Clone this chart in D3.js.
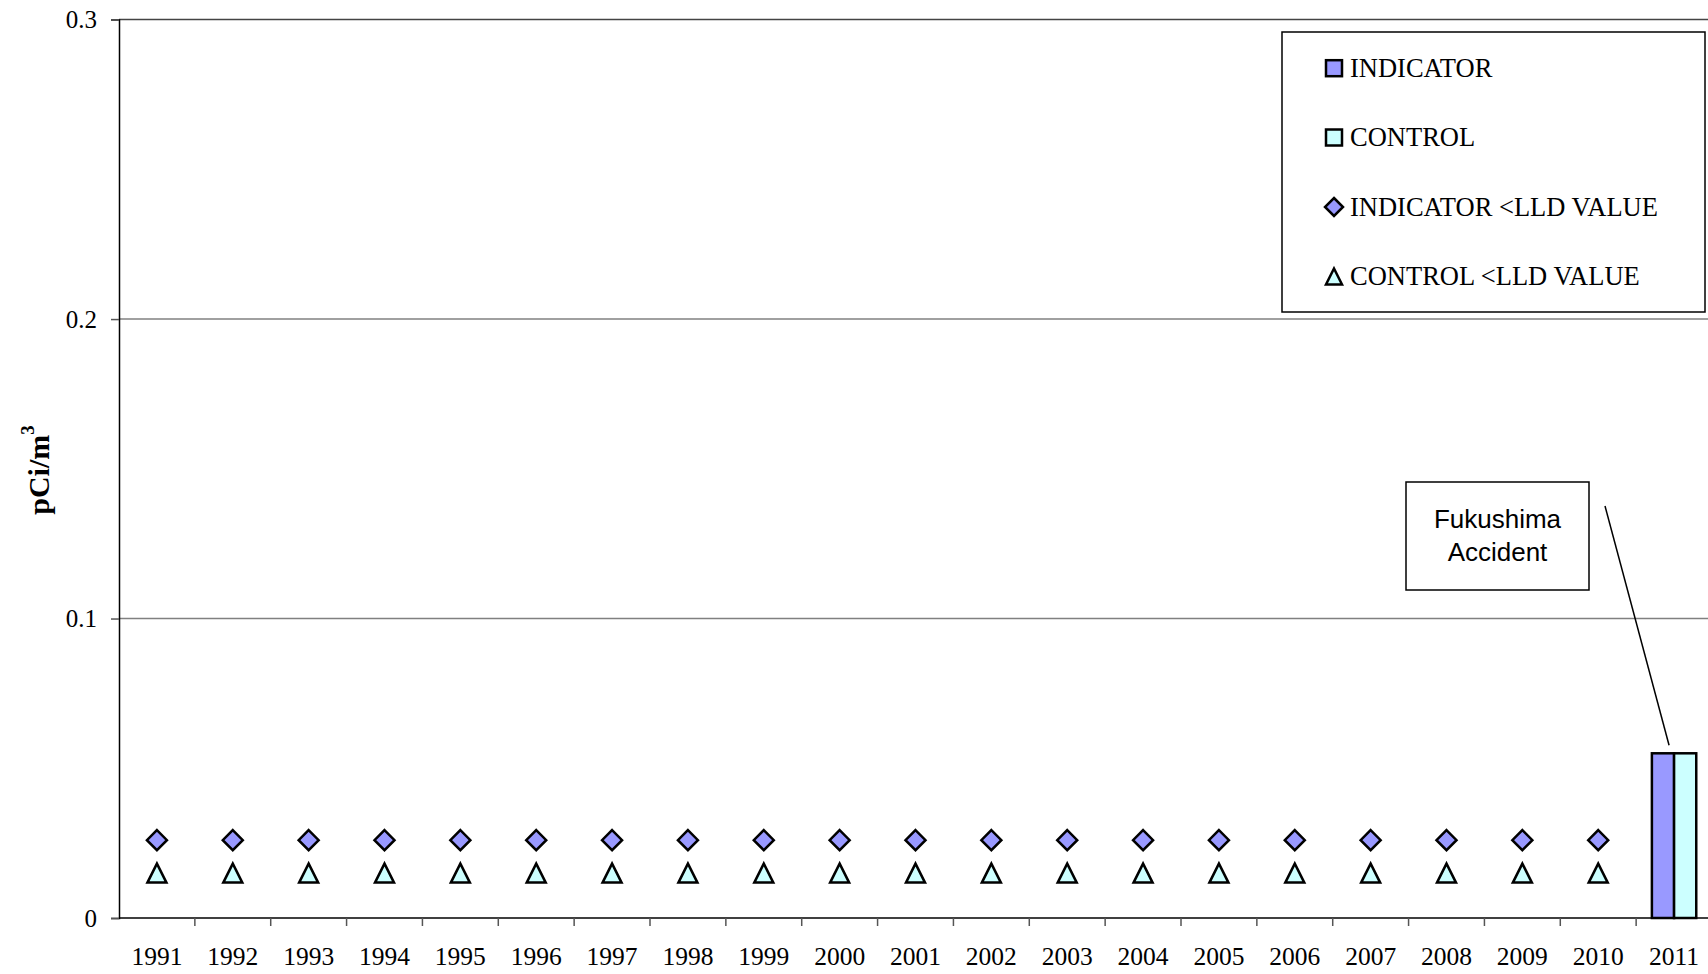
<!DOCTYPE html>
<html>
<head>
<meta charset="utf-8">
<script src="https://cdn.jsdelivr.net/npm/d3@7"></script>
<style>
html,body{margin:0;padding:0;background:#fff;overflow:hidden;}
svg{display:block;}
</style>
</head>
<body>
<svg id="chart" width="1708" height="974"></svg>
<script>
const years = ["1991","1992","1993","1994","1995","1996","1997","1998","1999","2000","2001","2002","2003","2004","2005","2006","2007","2008","2009","2010","2011"];
const indicatorBar = [null,null,null,null,null,null,null,null,null,null,null,null,null,null,null,null,null,null,null,null,0.055];
const controlBar   = [null,null,null,null,null,null,null,null,null,null,null,null,null,null,null,null,null,null,null,null,0.055];
const indicatorLLD = [0.026,0.026,0.026,0.026,0.026,0.026,0.026,0.026,0.026,0.026,0.026,0.026,0.026,0.026,0.026,0.026,0.026,0.026,0.026,0.026,null];
const controlLLD   = [0.015,0.015,0.015,0.015,0.015,0.015,0.015,0.015,0.015,0.015,0.015,0.015,0.015,0.015,0.015,0.015,0.015,0.015,0.015,0.015,null];
const yTicks = [0, 0.1, 0.2, 0.3];
const yTickLabels = ["0","0.1","0.2","0.3"];
const legendLabels = ["INDICATOR","CONTROL","INDICATOR <LLD VALUE","CONTROL <LLD VALUE"];
const annotationLines = ["Fukushima","Accident"];

const COL_IND = "#9999FF", COL_CTL = "#CCFFFF";
const SERIF = "'Liberation Serif','Times New Roman',serif";
const svg = d3.select("#chart");
const L = 119, R = 1712, T = 19.6, B = 918;

const x = d3.scaleBand().domain(years).range([L, R]);
const y = d3.scaleLinear().domain([0, 0.3]).range([B, T]);
const xs = d3.scaleBand().domain(["ind","ctl"]).range([0, x.bandwidth()]).paddingOuter(0.71).paddingInner(0);

// gridlines
svg.append("g").selectAll("line").data(yTicks.filter(d => d > 0)).join("line")
  .attr("x1", L).attr("x2", R)
  .attr("y1", d => y(d)).attr("y2", d => y(d))
  .attr("stroke", d => d === 0.3 ? "#444" : "#808080")
  .attr("stroke-width", 1.5);

// y axis
const yAxis = svg.append("g").attr("transform", `translate(${L},0)`)
  .call(d3.axisLeft(y).tickValues(yTicks).tickFormat((d,i) => yTickLabels[i]).tickSize(8).tickPadding(14));
yAxis.select(".domain").attr("stroke", "#000").attr("stroke-width", 1.5);
yAxis.selectAll(".tick line").attr("stroke", "#555").attr("stroke-width", 1.5);
yAxis.selectAll(".tick text").attr("font-family", SERIF).attr("font-size", 25).attr("fill", "#000");

// x axis
const xAxisG = svg.append("g");
xAxisG.append("line").attr("x1", L).attr("x2", R).attr("y1", B).attr("y2", B).attr("stroke", "#000").attr("stroke-width", 1.5);
xAxisG.selectAll("line.tk").data(years.slice(1)).join("line").attr("class","tk")
  .attr("x1", d => x(d)).attr("x2", d => x(d)).attr("y1", B).attr("y2", B + 8)
  .attr("stroke", "#555").attr("stroke-width", 1.5);
xAxisG.selectAll("text").data(years).join("text")
  .attr("x", d => x(d) + x.bandwidth()/2).attr("y", 965)
  .attr("text-anchor", "middle")
  .attr("font-family", SERIF).attr("font-size", 25.5)
  .text(d => d);

// bars
const barData = [];
years.forEach((yr, i) => {
  if (indicatorBar[i] != null) barData.push({yr, k:"ind", v: indicatorBar[i], c: COL_IND});
  if (controlBar[i] != null) barData.push({yr, k:"ctl", v: controlBar[i], c: COL_CTL});
});
svg.append("g").selectAll("rect").data(barData).join("rect")
  .attr("x", d => x(d.yr) + xs(d.k))
  .attr("width", xs.bandwidth())
  .attr("y", d => y(d.v)).attr("height", d => B - y(d.v))
  .attr("fill", d => d.c).attr("stroke", "#000").attr("stroke-width", 2.5);

// markers
const tri = (s) => `M0,${-s/2}L${s/2},${s/2}L${-s/2},${s/2}Z`;
const gm = svg.append("g");
gm.selectAll("path.dia").data(years.map((yr,i)=>({yr, v: indicatorLLD[i]})).filter(d => d.v != null)).join("path").attr("class","dia")
  .attr("d", "M0,-10L10,0L0,10L-10,0Z")
  .attr("transform", d => `translate(${x(d.yr) + x.bandwidth()/2},${y(d.v)})`)
  .attr("fill", COL_IND).attr("stroke", "#000").attr("stroke-width", 2.5).attr("stroke-linejoin","miter");
gm.selectAll("path.tri").data(years.map((yr,i)=>({yr, v: controlLLD[i]})).filter(d => d.v != null)).join("path").attr("class","tri")
  .attr("d", tri(19))
  .attr("transform", d => `translate(${x(d.yr) + x.bandwidth()/2},${y(d.v)})`)
  .attr("fill", COL_CTL).attr("stroke", "#000").attr("stroke-width", 2.5).attr("stroke-linejoin","miter");

// y label
const yl = svg.append("text")
  .attr("transform", "translate(49,470) rotate(-90)")
  .attr("text-anchor", "middle")
  .attr("font-family", SERIF)
  .attr("font-weight", "bold").attr("font-size", 30);
yl.append("tspan").text("pCi/m");
yl.append("tspan").attr("dy", -15).attr("font-size", 19).text("3");

// legend
const lg = svg.append("g");
lg.append("rect").attr("x", 1282).attr("y", 32).attr("width", 423).attr("height", 280)
  .attr("fill", "#fff").attr("stroke", "#000").attr("stroke-width", 1.5);
const rowY = [76.7, 146, 215.5, 285];
const mx = 1334;
legendLabels.forEach((lab, i) => {
  const cy = rowY[i] - 8.5;
  if (i < 2) {
    lg.append("rect").attr("x", mx - 8).attr("y", cy - 8).attr("width", 16).attr("height", 16)
      .attr("fill", i === 0 ? COL_IND : COL_CTL).attr("stroke", "#000").attr("stroke-width", 2.5);
  } else if (i === 2) {
    lg.append("path").attr("d", "M0,-9L9,0L0,9L-9,0Z").attr("transform", `translate(${mx},${cy})`)
      .attr("fill", COL_IND).attr("stroke", "#000").attr("stroke-width", 2.5);
  } else {
    lg.append("path").attr("d", tri(16)).attr("transform", `translate(${mx},${cy})`)
      .attr("fill", COL_CTL).attr("stroke", "#000").attr("stroke-width", 2.5);
  }
  lg.append("text").attr("x", 1350).attr("y", rowY[i])
    .attr("font-family", SERIF).attr("font-size", 26.5)
    .text(lab);
});

// annotation
const ann = svg.append("g");
const ax = x("2011") + x.bandwidth()/2;
ann.append("line").attr("x1", 1605).attr("y1", 506).attr("x2", ax - 5).attr("y2", y(indicatorBar[20]) - 8)
  .attr("stroke", "#000").attr("stroke-width", 1.5);
ann.append("rect").attr("x", 1406).attr("y", 482).attr("width", 183).attr("height", 108)
  .attr("fill", "#fff").attr("stroke", "#000").attr("stroke-width", 1.5);
annotationLines.forEach((t, i) => {
  ann.append("text").attr("x", 1497.5).attr("y", 528 + i * 33).attr("text-anchor", "middle")
    .attr("font-family", "'Liberation Sans',Arial,sans-serif").attr("font-size", 26).text(t);
});
</script>
</body>
</html>
